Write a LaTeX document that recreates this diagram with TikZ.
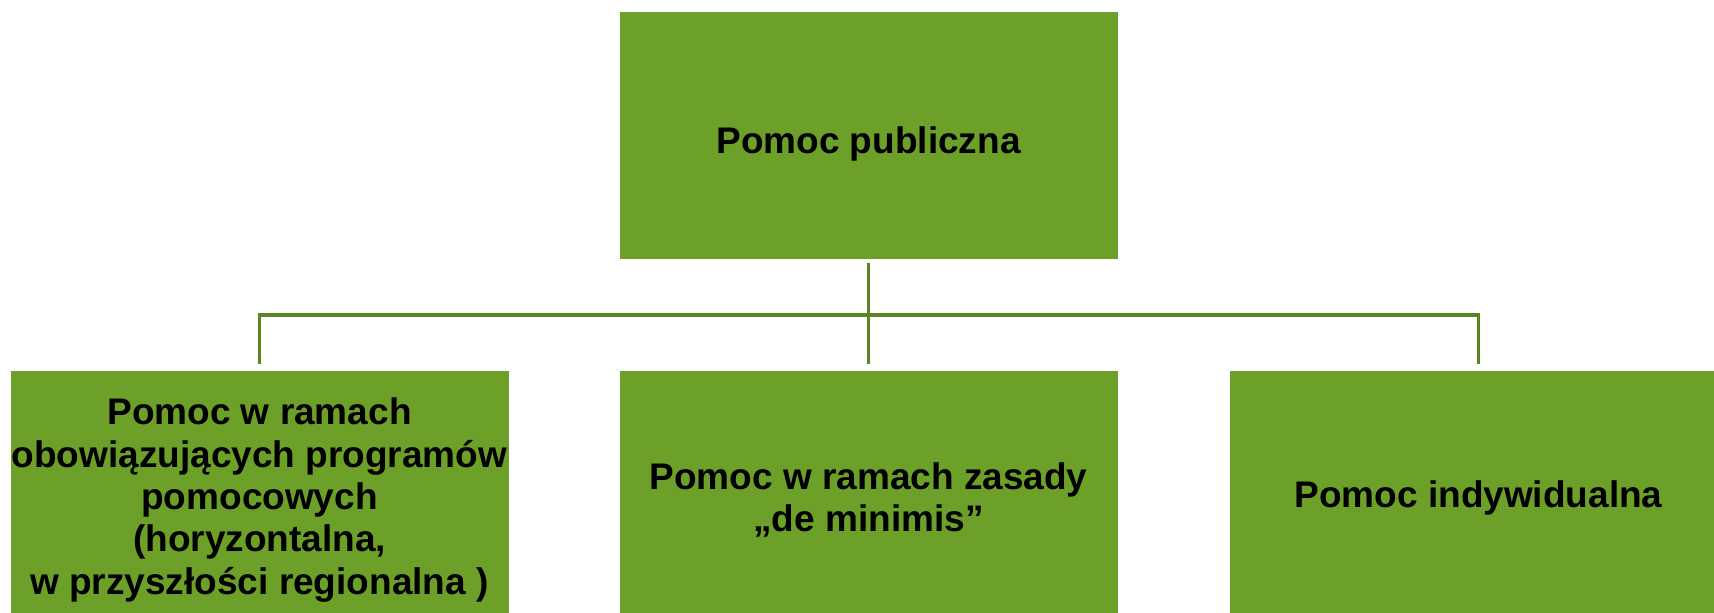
\documentclass[tikz,border=0pt]{standalone}
\usepackage{fontspec}
\setmainfont{Liberation Sans}
\definecolor{boxgreen}{HTML}{6CA028}
\definecolor{linegreen}{HTML}{5A8424}
\begin{document}
\begin{tikzpicture}[x=1pt,y=-1pt,
  box/.style={rectangle, fill=boxgreen, draw=none, minimum width=498pt, minimum height=247pt,
    inner sep=0pt},
  txt/.style={inner sep=0pt, align=center, font=\fontsize{37}{42.4}\selectfont\bfseries, text=black},
  conn/.style={draw=linegreen, line width=3.5pt}]
\useasboundingbox (0,0) rectangle (1714,613);
\node[box] (top) at (868.5,135.5) {};
\node[box] (left) at (259.5,494.5) {};
\node[box] (mid) at (868.5,494.5) {};
\node[box] (right) at (1478.5,494.5) {};
\node[txt] (ttop) at ([yshift=-8pt]top.center) {Pomoc publiczna};
\node[txt] (tleft) at ([yshift=-5.5pt]left.center) {Pomoc w ramach\\obowiązujących programów\\pomocowych\\(horyzontalna,\\w przyszłości regionalna )};
\node[txt] (tmid) at ([yshift=-5.5pt]mid.center) {Pomoc w ramach zasady\\„de minimis”};
\node[txt] (tright) at ([yshift=-3pt]right.center) {Pomoc indywidualna};
\coordinate (j) at (868.5,315);
\draw[conn, shorten <=4pt, shorten >=7pt] (top.south) -- (mid.north);
\draw[conn, shorten >=7pt] (j) -| (left.north);
\draw[conn, shorten >=7pt] (j) -| (right.north);
\end{tikzpicture}
\end{document}
